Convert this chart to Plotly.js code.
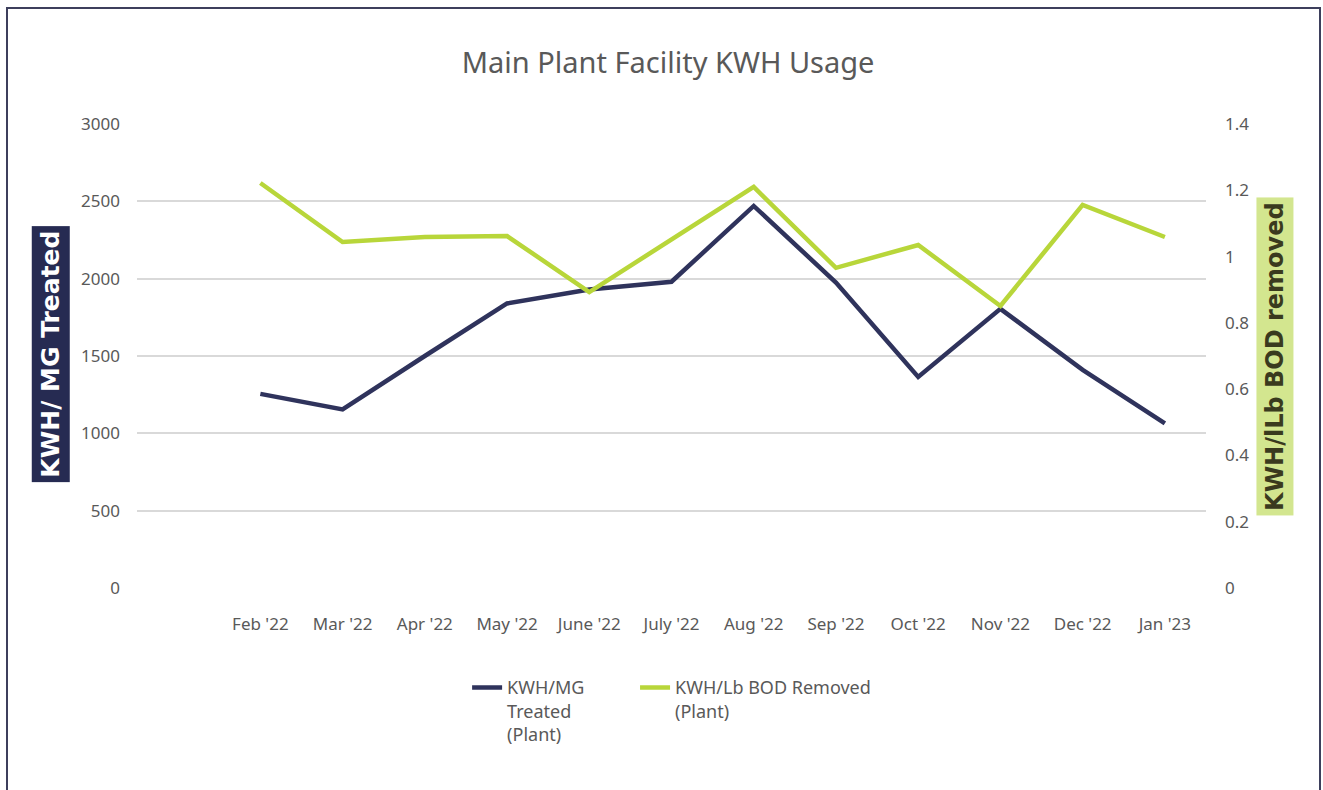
<!DOCTYPE html>
<html>
<head>
<meta charset="utf-8">
<script src="https://cdn.plot.ly/plotly-3.0.1.min.js"></script>
<style>
  body { margin: 0; background: #ffffff; }
  #wrap { position: relative; width: 1323px; height: 790px; }
  #plotly-plot { width: 1323px; height: 790px; }
  #frame {
    position: absolute; left: 6px; top: 7px; width: 1311px; height: 800px;
    border: 2px solid #3d3f5c; border-bottom: none; pointer-events: none;
  }
</style>
</head>
<body>
<div id="wrap">
  <div id="plotly-plot"></div>
  <div id="frame"></div>
</div>
<script>
const months = ["Feb '22", "Mar '22", "Apr '22", "May '22", "June '22", "July '22",
                "Aug '22", "Sep '22", "Oct '22", "Nov '22", "Dec '22", "Jan '23"];

// KWH per million gallons treated (left axis)
const kwh_mg = [1255, 1155, 1500, 1840, 1930, 1980, 2470, 1975, 1365, 1805, 1410, 1065];

// KWH per lb BOD removed (right axis)
const kwh_bod = [1.222, 1.044, 1.059, 1.062, 0.893, 1.052, 1.21, 0.966, 1.035, 0.851, 1.156, 1.059];

const leftTicks = [0, 500, 1000, 1500, 2000, 2500, 3000];
const rightTicks = [0, 0.2, 0.4, 0.6, 0.8, 1, 1.2, 1.4];

const fontFam = 'Noto Sans, sans-serif';
const grey = '#595959';

var trace1 = {
    name: 'KWH/MG<br>Treated<br>(Plant)',
    x: months,
    y: kwh_mg,
    type: 'scatter',
    mode: 'lines',
    line: { color: '#2f335c', width: 4.5 },
    yaxis: 'y',
    legend: 'legend'
};

var trace2 = {
    name: 'KWH/Lb BOD Removed<br>(Plant)',
    x: months,
    y: kwh_bod,
    type: 'scatter',
    mode: 'lines',
    line: { color: '#b8d63a', width: 4.5 },
    yaxis: 'y2',
    legend: 'legend2'
};

var legendStyle = {
    orientation: 'h',
    xanchor: 'left',
    y: -0.175,
    yanchor: 'top',
    font: { family: fontFam, size: 18, color: grey },
    valign: 'top',
    bgcolor: 'rgba(0,0,0,0)'
};

var layout = {
    width: 1323,
    height: 790,
    title: {
        text: 'Main Plant Facility KWH Usage',
        font: { family: fontFam, size: 29, color: grey },
        x: 0.505,
        xanchor: 'center',
        y: 0.921,
        yanchor: 'middle'
    },
    font: { family: fontFam, size: 17, color: grey },
    paper_bgcolor: '#ffffff',
    plot_bgcolor: '#ffffff',
    margin: { l: 137, r: 117, t: 124, b: 202, pad: 0 },
    showlegend: true,
    legend: Object.assign({}, legendStyle, { x: 0.3088 }),
    legend2: Object.assign({}, legendStyle, { x: 0.4659 }),
    xaxis: {
        type: 'category',
        range: [-1.5, 11.5],
        showgrid: false,
        zeroline: false,
        showline: false,
        ticks: '',
        ticklabelstandoff: 24,
        tickfont: { family: fontFam, size: 17, color: grey }
    },
    yaxis: {
        range: [0, 3000],
        tickvals: leftTicks,
        tickformat: 'd',
        showgrid: true,
        gridcolor: '#d9d9d9',
        gridwidth: 2,
        zeroline: false,
        showline: false,
        ticks: '',
        ticklabelstandoff: 16,
        tickfont: { family: fontFam, size: 17, color: grey }
    },
    yaxis2: {
        range: [0, 1.4],
        tickvals: rightTicks,
        overlaying: 'y',
        side: 'right',
        showgrid: false,
        zeroline: false,
        showline: false,
        ticks: '',
        ticklabelstandoff: 18,
        tickfont: { family: fontFam, size: 17, color: grey }
    },
    annotations: [
        {
            text: '<b>KWH/ MG Treated</b>',
            xref: 'paper', yref: 'paper',
            x: -0.0805, y: 0.505,
            xanchor: 'center', yanchor: 'middle',
            textangle: -90,
            showarrow: false,
            bgcolor: '#262b52',
            borderpad: 4,
            font: { family: 'DejaVu Sans, sans-serif', size: 25, color: '#ffffff' }
        },
        {
            text: '<b>KWH/lLb BOD removed</b>',
            xref: 'paper', yref: 'paper',
            x: 1.0645, y: 0.5,
            xanchor: 'center', yanchor: 'middle',
            textangle: -90,
            showarrow: false,
            bgcolor: '#d3e68f',
            borderpad: 4,
            font: { family: 'DejaVu Sans, sans-serif', size: 24, color: '#3a3a1e' }
        }
    ]
};

Plotly.newPlot('plotly-plot', [trace1, trace2], layout, { displayModeBar: false });
</script>
</body>
</html>
